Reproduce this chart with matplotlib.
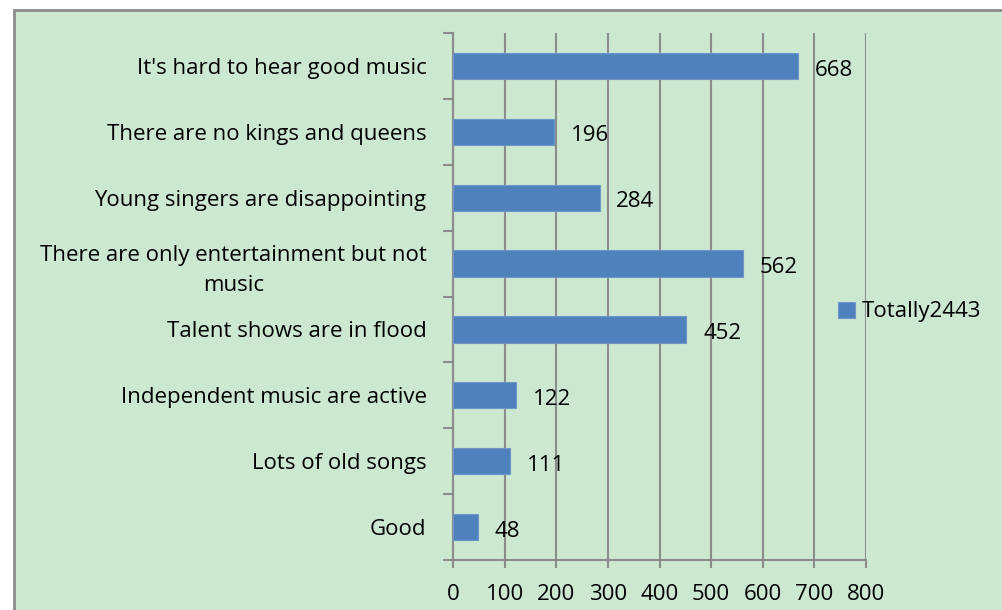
import numpy as np
import matplotlib.pyplot as plt
from matplotlib.patches import Rectangle

plt.rcParams['font.family'] = ['Open Sans', 'DejaVu Sans']

categories = [
    "It's hard to hear good music",
    'There are no kings and queens',
    'Young singers are disappointing',
    'There are only entertainment but not\nmusic',
    'Talent shows are in flood',
    'Independent music are active',
    'Lots of old songs',
    'Good',
]
counts = [668, 196, 284, 562, 452, 122, 111, 48]
series_name = 'Totally2443'

bg = '#cce8d0'
bar_color = '#4f81bd'
line_color = '#8c8c8c'
W, H = 1002, 610
fs = 16


def fx(px):
    return px / W


def fy(py):
    return 1 - py / H


fig = plt.figure(figsize=(W / 100, H / 100), dpi=100)
fig.patch.set_facecolor('white')
# chart area with grey frame on the left and top
fig.patches.append(Rectangle((fx(13.5), -0.01), 1.1, fy(9.5) + 0.01,
                             transform=fig.transFigure, facecolor=bg,
                             edgecolor=line_color, linewidth=2, zorder=-10))

ax = fig.add_axes([fx(453), fy(560), fx(866) - fx(453), fy(33) - fy(560)])
ax.set_facecolor('none')

y = np.arange(len(categories))
bars = ax.barh(y, counts, height=0.4, color=bar_color, edgecolor='#6f96c8',
               linewidth=0.8, zorder=3, label=series_name)
ax.set_ylim(len(categories) - 0.5, -0.5)
ax.set_xlim(0, 800)
ax.set_xticks(np.arange(0, 801, 100))
ax.grid(axis='x', color=line_color, linewidth=1.5, zorder=1)

ax.set_yticks(y)
ax.set_yticklabels(categories, ha='right', multialignment='center',
                   fontsize=fs, linespacing=1.55)
ax.tick_params(axis='y', length=0, pad=19)
# tick marks between categories
ax.set_yticks(np.arange(-0.5, len(categories)), minor=True)
ax.tick_params(axis='y', which='minor', length=7, width=1.5, color=line_color)
ax.tick_params(axis='x', length=6, width=1.5, color=line_color, pad=11,
               labelsize=fs)

for s in ['top', 'right']:
    ax.spines[s].set_visible(False)
for s in ['left', 'bottom']:
    ax.spines[s].set_color(line_color)
    ax.spines[s].set_linewidth(1.5)

for yi, v in zip(y, counts):
    ax.annotate(str(v), (v, yi), xytext=(12, -3), textcoords='offset points',
                va='center', ha='left', fontsize=fs, zorder=4)

fig.legend(handles=[bars], labels=[series_name], loc='center left',
           bbox_to_anchor=(fx(818), fy(312)), frameon=False, fontsize=fs,
           handlelength=0.75, handleheight=0.75, handletextpad=0.3)

fig.savefig('out.png', dpi=100)
